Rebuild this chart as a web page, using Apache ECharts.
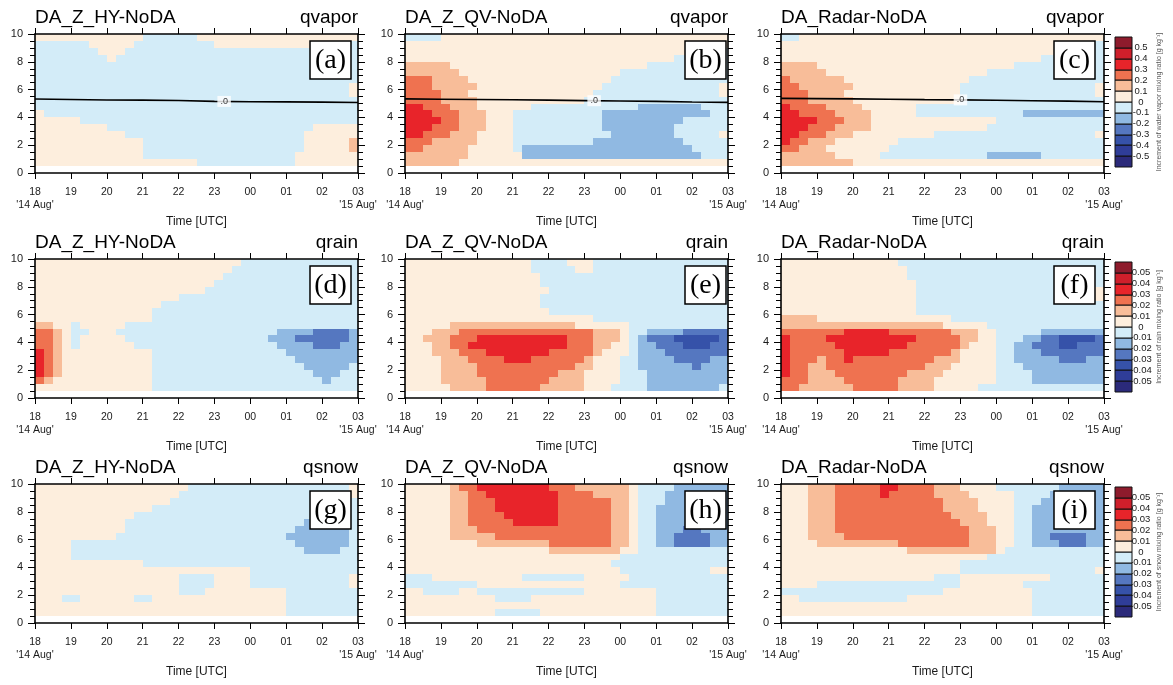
<!DOCTYPE html>
<html><head><meta charset="utf-8">
<script src="https://cdn.jsdelivr.net/npm/echarts@6/dist/echarts.min.js"></script>
<style>html,body{margin:0;padding:0;background:#fff}#chart{width:1173px;height:685px}</style>
</head><body><div id="chart"></div>
<script>
// ---------------- DATA ----------------
// Time axis: 0 = 18 UTC 14 Aug ... 9 = 03 UTC 15 Aug
const timeTickLabels = ["18\n'14 Aug'", "19", "20", "21", "22", "23", "00", "01", "02", "03\n'15 Aug'"];
const experimentNames = ['DA_Z_HY-NoDA', 'DA_Z_QV-NoDA', 'DA_Radar-NoDA'];
const variableNames = ['qvapor', 'qrain', 'qsnow'];
const panelTags = ['(a)', '(b)', '(c)', '(d)', '(e)', '(f)', '(g)', '(h)', '(i)'];
const colorbarTitles = [
  'Increment of water vapor mixing ratio [g kg\u207B\u00B9]',
  'Increment of rain mixing ratio [g kg\u207B\u00B9]',
  'Increment of snow mixing ratio [g kg\u207B\u00B9]'
];
const qvaporLevelLabels = ['0.5', '0.4', '0.3', '0.2', '0.1', '0', '-0.1', '-0.2', '-0.3', '-0.4', '-0.5'];
const hydroLevelLabels = ['0.05', '0.04', '0.03', '0.02', '0.01', '0', '-0.01', '-0.02', '-0.03', '-0.04', '-0.05'];
// level codes, lowest to highest bin: K<-5, V, N, B, b, '-' (-1..0), '.' (0..1), o, O, R, X, M>5 (units of one contour step)
const levelCodes = 'KVNBb-.oORXM';

// Each panel: rows from 10 km (top) down to 0.5 km, 0.5 km per row; 36 columns of 15 min (18 UTC -> 03 UTC)
const qvaporHY = [
  ".... .... .... ---- --.. .... .... .... ....",
  "---- --.. ...- ---- ---- .... .... ...- ----",
  "---- ---. ..-- ---- ---- ---- ---- ---- ----",
  "---- ---- .--- ---- ---- ---- ---- ---- ----",
  "---- ---- ---- ---- ---- ---- ---- ---- ----",
  "---- ---- ---- ---- ---- ---- ---- ---- ----",
  "---- ---- ---- ---- ---- ---- ---- ---- ----",
  "---- ---- ---- ---- ---- ---- ---- ---- ---.",
  "---- ---- ---- ---- ---- ---- ---- ---- ---.",
  "---- ---- ---- ---- ---- ---- ---- ---- ----",
  "---- ---- ---- ---- ---- ---- ---- ---- ----",
  ".--- ---- ---- ---- ---- ---- ---- ---- ----",
  ".... .--- ---- ---- ---- ---- ---- ---- ----",
  ".... .... ---- ---- ---- ---- ---- ---. ....",
  ".... .... ..-- ---- ---- ---- ---- --.. ....",
  ".... .... .... ---- ---- ---- ---- --.. ...o",
  ".... .... .... ---- ---- ---- ---- --.. ...o",
  ".... .... .... ---- ---- ---- ---- -... ....",
  ".... .... .... .... ..-- ---- ---- -... ...."
];
const qvaporQV = [
  "---- .... .... .... .... .... .... .... ....",
  ".... .... .... .... .... .... .... .... ....",
  ".... .... .... .... .... .... .... .... .---",
  ".... .... .... .... .... .... .... ..-- ----",
  "oooo o... .... .... .... .... ...- ---- ----",
  "oooo oo.. .... .... .... .... ---- ---- ----",
  "OOOo ooo. .... .... .... ...- ---- ---- ----",
  "OOOo oooo .... .... .... ..-- ---- ---- ---.",
  "OOOO ooo. .... .... .... .--- ---- ---- ---.",
  "OOOO oooo .... .... .... ---- ---- ---- ----",
  "RROO Oooo .... ..-- ---- ---- --bb bbbb b---",
  "RRRO OOoo o... ---- ---- --bb bbbb bbbb bb--",
  "RRRR OOoo o... ---- ---- --bb bbbb bbb- ----",
  "RRRO OOoo o... ---- ---- --bb bbbb bb-- ----",
  "RROO Oooo .... ---- ---- ---b bbbb bb-- ---.",
  "OOOo oooo .... ---- ---- -bbb bbbb bbb- ----",
  "OOoo ooo. .... -bbb bbbb bbbb bbbb bbbb ----",
  "oooo ooo. .... .bbb bbbb bbbb bbbb bbbb b---",
  "oooo oo.. .... .... .... .... .... .... ...."
];
const qvaporRadar = [
  "--.. .... .... .... .... .... .... .... ....",
  ".... .... .... .... .... .... .... .... ..--",
  ".... .... .... .... .... .... .... ...- ----",
  ".... .... .... .... .... .... .... .--- ----",
  "oooo .... .... .... .... .... ..-- ---- ----",
  "oooo o... .... .... .... ...- ---- ---- ----",
  "Oooo ooo. .... .... .... .--- ---- ---- ----",
  "OOoo oooo .... .... .... ---- ---- ---- ---.",
  "OOOo ooo. .... .... .... ---- ---- ---- ---.",
  "OOOo oooo .... .... .... ---- ---- ---- ----",
  "ROOO Oooo o... ...- ---- ---- ---- ---- ----",
  "RROO OOoo oo.. ...- ---- ---- ---b bbbb bbbb",
  "RRRR OOOo oo.. .... .... .... ---- ---- ----",
  "RRRO OOoo oo.. .... .... ...- ---- ---- ----",
  "RROO Oooo .... .... .--- ---- ---- ---- ---.",
  "ROOo oo.. .... .--- ---- ---- ---- ---- ----",
  "OOoo o... .... ---- ---- ---- ---- ---- ----",
  "oooo oo.. ...- ---- ---- ---b bbbb b--- ----",
  "oooo oooo .... .... .... .... .... .... ...."
];
const qrainHY = [
  ".... .... .... .... .... ...- ---- ---- ----",
  ".... .... .... .... .... ..-- ---- ---- ----",
  ".... .... .... .... .... .--- ---- ---- ----",
  ".... .... .... .... .... ---- ---- ---- ----",
  ".... .... .... .... ...- ---- ---- ---- ----",
  ".... .... .... .... ---- ---- ---- ---- ----",
  ".... .... .... ..-- ---- ---- ---- ---- ----",
  ".... .... .... .--- ---- ---- ---- ---- ----",
  ".... .... .... .--- ---- ---- ---- ---- ----",
  "oo.. -... ..-- ---- ---- ---- ---- ---- ----",
  "OOo. --.. .--- ---- ---- ---- ---b bbbB BBBb",
  "OOo. -... ..-- ---- ---- ---- --bb bBBB BBBb",
  "OOo. -... ...- ---- ---- ---- ---b bbbB BBbb",
  "ROo. .... .... .--- ---- ---- ---- bbbb bbbb",
  "ROo. .... .... .--- ---- ---- ---- -bbb bbbb",
  "ROo. .... .... .--- ---- ---- ---- --bb bbb-",
  "ROo. .... .... .--- ---- ---- ---- ---b bb--",
  "Oo.. .... .... .--- ---- ---- ---- ---- b---",
  ".... .... .... .--- ---- ---- ---- ---- ----"
];
const qrainQV = [
  ".... .... .... ..-- --.. .--- ---- ---- ----",
  ".... .... .... ..-- ---. .--- ---- ---- ----",
  ".... .... .... ...- ---- ---- ---- ---- ----",
  ".... .... .... ...- ---- ---- ---- ---- ----",
  ".... .... .... .... ---- ---- ---- ---- ----",
  ".... .... .... ...- ---- ---- ---- ---- ----",
  ".... .... .... ...- ---- ---- ---- ---- ----",
  ".... .... .... .... ---- ---- ---- ---- ----",
  ".... .... .... .... .... .--- ---- ---- ----",
  ".... .ooo oooo oooo ooo. .... .--- ---- ----",
  "...o ooOO OOOO OOOO OOOO Oooo .--b bbbB BBBB",
  "..oo oOOO RRRR RRRR RROO Oooo .-bB BBNN NNNB",
  "...o oOOR RRRR RRRR RROO Ooo. .-bb BBBN NNBB",
  "...o ooOO ORRR RRRR OOOO Oo.. .-bb bBBB BBBB",
  ".... oooO OOOR RROO OOOO o... --bb bbBB BBbb",
  ".... oooo OOOO OOOO OOOo o... --bb bbbb Bbbb",
  ".... oooo OOOO OOOO Oooo .... ---b bbbb bbbb",
  ".... oooo oOOO OOOO oooo .... ---b bbbb bbbb",
  ".... .ooo oOOO OOOo oooo ...- ---b bbbb bbb-"
];
const qrainRadar = [
  ".... .... .... .--- ---- ---- ---- ---- ----",
  ".... .... .... ..-- ---- ---- ---- ---- ----",
  ".... .... .... ..-- ---- ---- ---- ---- ----",
  ".... .... .... ...- ---- ---- ---- ---- ----",
  ".... .... .... ...- ---- ---- ---- ---- ---.",
  ".... .... .... ...- ---- ---- ---- ---- ---.",
  ".... .... .... ...- ---- ---- ---- ---- ----",
  ".... .... .... ...- ---- ---- ---- ---- ----",
  "oooo .... .... .... ...- ---- ---- ---- ----",
  "oooo oooo oooo oooo oo.. ...- ---- ---- ----",
  "OOOO OOOR RRRR OOOO OOOo oo.. ---- -bbb bbbb",
  "ROOO ORRR RRRR RRRO OOOO oo.. ---b bBBN NNNB",
  "ROOO OORR RRRR RROO OOOO o... --bb BBBN NBBB",
  "ROOO OOOR RRRR OOOO OOOo .... --bb bBBB BBBB",
  "ROOO oOOR OOOO OOOO Oooo .... --bb bbbB BBbb",
  "ROOo oOOO OOOO OOOO ooo. .... ---b bbbb bbbb",
  "ROOo ooOO OOOO OOoo oo.. .... ---- bbbb bbbb",
  "OOOo oooO OOOO Oooo o... .... ---- bbbb bbbb",
  "OOoo oooo OOOO Oooo o... ..-- ---- ---- ----"
];
const qsnowHY = [
  ".... .... .... .... .--- ---- ---- ---- ---.",
  ".... .... .... .... ---- ---- ---- ---- ---.",
  ".... .... .... ...- ---- ---- ---- ---- ----",
  ".... .... .... .--- ---- ---- ---- ---- ----",
  ".... .... ...- ---- ---- ---- ---- ---b bbb-",
  ".... .... ..-- ---- ---- ---- ---- --bb bbb-",
  ".... .... ..-- ---- ---- ---- ---- -bbb bbb-",
  ".... .... .--- ---- ---- ---- ---- bbbb bbb-",
  ".... ---- ---- ---- ---- ---- ---- -bbb bbb-",
  ".... ---- ---- ---- ---- ---- ---- --bb bb--",
  ".... ---- ---- ---- ---- ---- ---- ---- ----",
  ".... .... .... ---- ---- ---- ---- ---- ----",
  ".... .... .... .... .... .... ---- ---- ----",
  ".... .... .... .... ---- .... ---- ---- ---.",
  ".... .... .... .... ---- .... ---- ---- ---.",
  ".... .... .... .... ---. .... .... ---- ----",
  "...- -... ...- -... .... .... .... ---- ----",
  ".... .... .... .... .... .... .... ---- ----",
  ".... .... .... .... .... .... .... ---- ----"
];
const qsnowQV = [
  ".... .oOO RRRR RRRR OOOo oooo o.-- --bb bbbb",
  ".... .ooO ORRR RRRR ROOO Oooo o.-- -bbb bbbb",
  ".... .ooO OORR RRRR ROOO OOOo o.-- -bbb bbbb",
  ".... .ooO OORR RRRR ROOO OOOo o.-- bbbb bbbb",
  ".... .ooO OOOR RRRR ROOO OOOo o.-- bbbb bbbb",
  ".... .ooO OOOO RRRR ROOO OOOo o.-- bbbb bbbb",
  ".... .ooo OOOO OOOO OOOO OOOo o.-- bbbB Bbbb",
  ".... .ooo ooOO OOOO OOOO OOOo o.-- bbBB BBbb",
  ".... .... oooo oooo OOOO OOOo o.-- bbBB BBbb",
  ".... .... .... .... oooo oooo ..-- ---- ----",
  ".... .... .... .... .... .... ---- ---- ----",
  ".... .... .... .... .... ...- ---- ---- ----",
  ".... .... .... .... .... .... ---- ---- --..",
  "---. .... .... .--- ---- .... .--- ---- ----",
  "---- ---- .... .... .... .... ---- ---- ----",
  "..-- --.. ---- ---- ---- .... .... ---- ----",
  ".... .... ..-- --.. .... .... .... ---- ----",
  ".... .... .... .... .... .... .... ---- ----",
  ".... .... ..-- ---. .... .... .... ---- ----"
];
const qsnowRadar = [
  "...o ooOO OOOR ROOO Oooo .... ---- ---b bbbb",
  "...o ooOO OOOR OOOO Oooo o... ..-- --bb bbbb",
  "...o ooOO OOOO OOOO OOoo oo.. ..-- -bbb bbbb",
  "...o ooOO OOOO OOOO OOoo oo.. ..-- bbbb bbbb",
  "...o ooOO OOOO OOOO OOOo ooo. ..-- bbbb bbbb",
  "...o ooOO OOOO OOOO OOOO ooo. ..-- bbbb bbbb",
  "...o ooOO OOOO OOOO OOOO Oooo ..-- bbbb bbbb",
  "...o oooO OOOO OOOO OOOO Oooo ..-- bbBB BBbb",
  ".... oooo oooo oOOO OOOO Oooo ..-- bbbB BBbb",
  ".... .... .... ..oo oooo oooo .--- ---- ----",
  ".... .... .... .... .... ...- ---- ---- ----",
  ".... .... .... .... .... ---- ---- ---- ----",
  ".... .... .... .... .... ---- ---- ---- ---.",
  ".... .... .... .... .--- .... .... ..-- ----",
  ".... ---- ---- ---- ---- .... ...- ---- ----",
  "---- ---- ---- ---- --.. .... .... ---- ----",
  "..-- ---- ---- --.. .... .... .... ---- ----",
  ".... .... .... .... .... .... .... ---- ----",
  ".... .... .... .... .... .... .... ---- ----"
];
const panelRows = [qvaporHY, qvaporQV, qvaporRadar, qrainHY, qrainQV, qrainRadar, qsnowHY, qsnowQV, qsnowRadar];

// 0-line contour in the qvapor panels (km), hourly from 18 to 03 UTC
const contourHours = [0, 1, 2, 3, 4, 5, 6, 7, 8, 9];
const zeroLineHY = [5.32, 5.29, 5.25, 5.24, 5.22, 5.15, 5.13, 5.12, 5.10, 5.07];
const zeroLineQV = [5.33, 5.31, 5.29, 5.27, 5.24, 5.21, 5.18, 5.15, 5.11, 5.08];
const zeroLineRadar = [5.37, 5.35, 5.33, 5.31, 5.28, 5.26, 5.23, 5.20, 5.17, 5.13];
const zeroLines = [zeroLineHY, zeroLineQV, zeroLineRadar];
const zeroLabelAt = [[5.27, 5.15], [5.27, 5.20], [5.0, 5.26]];

// ---------------- STYLE / LAYOUT ----------------
const LEVEL_COLORS = ['#2b2a7a', '#2f3d98', '#3652a9', '#5577c0', '#90b9e2', '#d3ecf8',
                      '#fdeedd', '#f8bd99', '#ef7250', '#e8242a', '#cf1f2b', '#8e1b2c'];
const FONT = '"Liberation Sans", Arial, Helvetica, sans-serif';
const GRID_LEFT = [35, 405, 781];
const GRID_TOP = [34, 259, 484];
const GRID_W = 323, GRID_H = 139;
const TAG_INSET = [7, 2, 9];
const CB_TOP = [37, 262, 487];
const X_STEP = 0.25, Y_STEP = 0.5;

function buildCells(rows) {
  const out = [];
  rows.forEach((row, r) => {
    const s = row.replace(/ /g, '');
    if (s.length !== 36) console.warn('row length', s.length, row);
    const yTop = 10 - r * Y_STEP, yBot = yTop - Y_STEP;
    let start = 0;
    for (let j = 1; j <= s.length; j++) {
      if (j === s.length || s[j] !== s[start]) {
        out.push([start * X_STEP, j * X_STEP, yBot, yTop, levelCodes.indexOf(s[start])]);
        start = j;
      }
    }
  });
  return out;
}

function renderCell(params, api) {
  const a = api.coord([api.value(0), api.value(3)]);
  const b = api.coord([api.value(1), api.value(2)]);
  const x0 = Math.round(a[0]), y0 = Math.round(a[1]);
  const x1 = Math.round(b[0]), y1 = Math.round(b[1]);
  return {type: 'rect', shape: {x: x0, y: y0, width: x1 - x0, height: y1 - y0},
          style: {fill: LEVEL_COLORS[api.value(4)]}, silent: true};
}
function renderColorbar(params, api) {
  const lv = api.value(0);
  const a = api.coord([0, lv - 5]);
  const b = api.coord([1, lv - 6]);
  return {type: 'rect', shape: {x: a[0], y: Math.round(a[1]), width: b[0] - a[0], height: Math.round(b[1]) - Math.round(a[1])},
          style: {fill: LEVEL_COLORS[lv], stroke: '#111', lineWidth: 1}, silent: true};
}

const grids = [], xAxes = [], yAxes = [], series = [], graphics = [];
const axisLine = {show: true, onZero: false, lineStyle: {color: '#000', width: 1.6}};
const tickStyle = {color: '#000', width: 1};

for (let r = 0; r < 3; r++) {
  for (let c = 0; c < 3; c++) {
    const p = r * 3 + c;
    const left = GRID_LEFT[c], top = GRID_TOP[r];
    grids.push({left: left, top: top, width: GRID_W, height: GRID_H, outerBoundsMode: 'none'});
    const gi = grids.length - 1;
    xAxes.push({gridIndex: gi, type: 'value', min: 0, max: 9, interval: 1, position: 'bottom', z: 5,
      axisLine: axisLine, axisTick: {show: true, inside: false, length: 6, lineStyle: tickStyle},
      axisLabel: {formatter: v => timeTickLabels[Math.round(v)] || '', fontSize: 10.5, color: '#1a1a1a',
                  fontFamily: FONT, margin: 13, lineHeight: 13, showMinLabel: true, showMaxLabel: true},
      splitLine: {show: false},
      name: 'Time [UTC]', nameLocation: 'middle', nameGap: 43,
      nameTextStyle: {fontSize: 12, color: '#1a1a1a', fontFamily: FONT}});
    xAxes.push({gridIndex: gi, type: 'value', min: 0, max: 9, interval: 1, position: 'top', z: 5,
      axisLine: axisLine, axisTick: {show: true, inside: false, length: 6, lineStyle: tickStyle},
      axisLabel: {show: false}, splitLine: {show: false}});
    yAxes.push({gridIndex: gi, type: 'value', min: 0, max: 10, interval: 2, position: 'left', z: 5,
      axisLine: axisLine, axisTick: {show: true, inside: false, length: 7, lineStyle: tickStyle},
      minorTick: {show: true, splitNumber: 4, length: 5, lineStyle: tickStyle},
      axisLabel: {fontSize: 11, color: '#1a1a1a', fontFamily: FONT, margin: 12, showMinLabel: true, showMaxLabel: true},
      splitLine: {show: false}, minorSplitLine: {show: false}});
    yAxes.push({gridIndex: gi, type: 'value', min: 0, max: 10, interval: 2, position: 'right', z: 5,
      axisLine: axisLine, axisTick: {show: true, inside: false, length: 7, lineStyle: tickStyle},
      minorTick: {show: true, splitNumber: 4, length: 5, lineStyle: tickStyle},
      axisLabel: {show: false}, splitLine: {show: false}, minorSplitLine: {show: false}});

    series.push({type: 'custom', xAxisIndex: 2 * gi, yAxisIndex: 2 * gi, renderItem: renderCell,
      data: buildCells(panelRows[p]), encode: {x: [0, 1], y: [2, 3]}, z: 1, silent: true, clip: true});

    if (r === 0) {
      series.push({type: 'line', xAxisIndex: 2 * gi, yAxisIndex: 2 * gi, z: 3, silent: true,
        data: contourHours.map((h, i) => [h, zeroLines[c][i]]), showSymbol: false,
        lineStyle: {color: '#000', width: 1.6}});
      series.push({type: 'scatter', xAxisIndex: 2 * gi, yAxisIndex: 2 * gi, z: 4, silent: true,
        data: [zeroLabelAt[c]], symbolSize: 1, itemStyle: {color: '#fff'},
        label: {show: true, position: 'inside', formatter: '.0', fontSize: 9, color: '#000',
                backgroundColor: '#fff', padding: [1, 3], fontFamily: FONT}});
    }

    // titles
    graphics.push({type: 'text', x: left, y: top - 16, z: 10,
      style: {text: experimentNames[c], fontSize: 19, fontFamily: FONT, fill: '#000', align: 'left', verticalAlign: 'middle'}});
    graphics.push({type: 'text', x: left + GRID_W, y: top - 16, z: 10,
      style: {text: variableNames[r], fontSize: 19, fontFamily: FONT, fill: '#000', align: 'right', verticalAlign: 'middle'}});
    // panel tag box
    const bx = left + GRID_W - TAG_INSET[c] - 41, by = top + 7;
    graphics.push({type: 'rect', z: 20, shape: {x: bx, y: by, width: 41, height: 38},
      style: {fill: '#fff', stroke: '#000', lineWidth: 1.5}});
    graphics.push({type: 'text', z: 21, x: bx + 20.5, y: by + 19.5,
      style: {text: panelTags[p], fontSize: 28, fontFamily: '"Liberation Serif", "Times New Roman", serif',
              fill: '#000', align: 'center', verticalAlign: 'middle'}});
  }
}

// colorbars
const levelIndices = [0, 1, 2, 3, 4, 5, 6, 7, 8, 9, 10, 11];
for (let r = 0; r < 3; r++) {
  grids.push({left: 1115, top: CB_TOP[r], width: 17, height: 130, outerBoundsMode: 'none'});
  const gi = grids.length - 1;
  const labels = r === 0 ? qvaporLevelLabels : hydroLevelLabels;
  xAxes.push({gridIndex: gi, type: 'value', min: 0, max: 1, show: false});
  yAxes.push({gridIndex: gi, type: 'value', min: -6, max: 6, interval: 1, position: 'right',
    axisLine: {show: false}, axisTick: {show: false}, splitLine: {show: false},
    axisLabel: {formatter: v => (Math.abs(v) >= 6 ? '' : labels[5 - Math.round(v)]), fontSize: 9.5,
                color: '#1a1a1a', fontFamily: FONT, align: 'center', margin: 9, showMinLabel: true, showMaxLabel: true},
    name: colorbarTitles[r], nameLocation: 'middle', nameRotate: 90, nameGap: 24,
    nameTextStyle: {fontSize: 7, color: '#555', fontFamily: FONT}});
  series.push({type: 'custom', xAxisIndex: xAxes.length - 1, yAxisIndex: yAxes.length - 1,
    renderItem: renderColorbar, data: levelIndices.map(v => [v]), silent: true, z: 2});
}

const chart = echarts.init(document.getElementById('chart'), null, {renderer: 'canvas'});
chart.setOption({
  animation: false,
  backgroundColor: '#fff',
  textStyle: {fontFamily: FONT},
  grid: grids, xAxis: xAxes, yAxis: yAxes, series: series,
  graphic: {elements: graphics}
});
</script></body></html>
